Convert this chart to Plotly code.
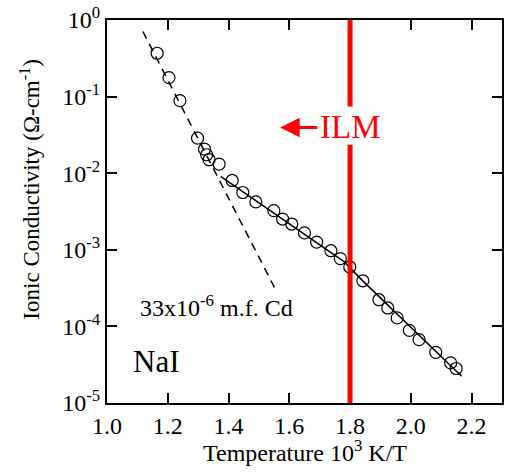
import plotly.graph_objects as go

# Measured data (10^3 K/T, ionic conductivity in ohm^-1 cm^-1)
inv_temp = [1.165, 1.204, 1.240, 1.298, 1.321, 1.328, 1.336, 1.369, 1.412, 1.447,
            1.490, 1.549, 1.578, 1.608, 1.650, 1.690, 1.737, 1.768, 1.799, 1.842,
            1.895, 1.924, 1.955, 1.995, 2.027, 2.082, 2.131, 2.149]
conductivity = [0.368, 0.177, 0.0887, 0.0287, 0.0206, 0.0174, 0.0150, 0.01315, 0.00804, 0.00560,
                0.00422, 0.00324, 0.00252, 0.00217, 0.00166, 0.00126, 0.000973, 0.000766, 0.000597, 0.000394,
                0.000223, 0.000174, 0.000129, 0.0000889, 0.0000673, 0.0000459, 0.0000334, 0.0000282]

# Fit curve (solid)
fit_x = [1.374, 1.78, 1.84, 2.167]
fit_y = [0.00912, 0.00070, 0.000399, 0.0000224]

# Cd-doped extrapolation (dashed)
cd_x = [1.118, 1.551]
cd_y = [0.708, 0.000324]

# ILM marker
ilm_x = 1.8

x_ticks = [1.0, 1.2, 1.4, 1.6, 1.8, 2.0, 2.2]
x_ticktext = ["1.0", "1.2", "1.4", "1.6", "1.8", "2.0", "2.2"]
y_ticks = [1, 0.1, 0.01, 0.001, 0.0001, 0.00001]
y_ticktext = ["10<sup>0</sup>", "10<sup>-1</sup>", "10<sup>-2</sup>",
              "10<sup>-3</sup>", "10<sup>-4</sup>", "10<sup>-5</sup>"]

x_title = "Temperature 10<sup>3</sup> K/T"
y_title = "Ionic Conductivity (\u03a9-cm<sup>-1</sup>)"

FONT = "Liberation Serif"

fig = go.Figure()
fig.add_trace(go.Scatter(x=cd_x, y=cd_y, mode="lines",
                         line=dict(color="black", width=1.5, dash="8px,6px"),
                         showlegend=False, hoverinfo="skip"))
fig.add_trace(go.Scatter(x=fit_x, y=fit_y, mode="lines",
                         line=dict(color="black", width=1.5),
                         showlegend=False, hoverinfo="skip"))
fig.add_trace(go.Scatter(x=inv_temp, y=conductivity, mode="markers",
                         marker=dict(symbol="circle-open", size=12, color="black",
                                     line=dict(width=1.2, color="black")),
                         showlegend=False))

# Red ILM line with a gap around the label
fig.add_shape(type="line", xref="x", yref="paper", x0=ilm_x, x1=ilm_x, y0=0, y1=0.674,
              line=dict(color="#ff0000", width=5), layer="above")
fig.add_shape(type="line", xref="x", yref="paper", x0=ilm_x, x1=ilm_x, y0=0.774, y1=1,
              line=dict(color="#ff0000", width=5), layer="above")

fig.add_annotation(x=ilm_x, y=-1.40, xref="x", yref="y", text="ILM", showarrow=False,
                   font=dict(family=FONT, size=33, color="#ff0000"))
fig.add_annotation(x=1.570, y=-1.404, ax=1.697, ay=-1.404, xref="x", yref="y",
                   axref="x", ayref="y", text="", showarrow=True,
                   arrowhead=2, arrowsize=1.3, arrowwidth=3, arrowcolor="#ff0000")
fig.add_annotation(x=1.359, y=-3.74, xref="x", yref="y",
                   text="33x10<sup>-6</sup> m.f. Cd", showarrow=False,
                   font=dict(family=FONT, size=24, color="black"))
fig.add_annotation(x=1.162, y=-4.46, xref="x", yref="y", text="NaI", showarrow=False,
                   font=dict(family=FONT, size=31, color="black"))

# Axis titles
fig.add_annotation(x=0.5, y=-0.126, xref="paper", yref="paper", text=x_title,
                   showarrow=False, xanchor="center", yanchor="middle",
                   font=dict(family=FONT, size=24, color="black"))
fig.add_annotation(x=-0.196, y=0.556, xref="paper", yref="paper", text=y_title,
                   showarrow=False, textangle=-90, xanchor="center", yanchor="middle",
                   font=dict(family=FONT, size=23, color="black"))

axis_common = dict(showline=True, linecolor="black", linewidth=2, mirror="ticks",
                   ticks="inside", ticklen=10, tickwidth=1.5, tickcolor="black",
                   showgrid=False, zeroline=False,
                   tickfont=dict(family=FONT, size=24, color="black"))

fig.update_xaxes(range=[1.0, 2.3], tickvals=x_ticks, ticktext=x_ticktext, **axis_common)
fig.update_yaxes(type="log", autorange=False, tickvals=y_ticks, ticktext=y_ticktext,
                 **axis_common)
fig.update_yaxes(range=[-5, 0])

fig.update_layout(width=506, height=474, margin=dict(l=107, r=2, t=20, b=71),
                  plot_bgcolor="white", paper_bgcolor="white",
                  font=dict(family=FONT, color="black"))

fig.write_html("out.html")
